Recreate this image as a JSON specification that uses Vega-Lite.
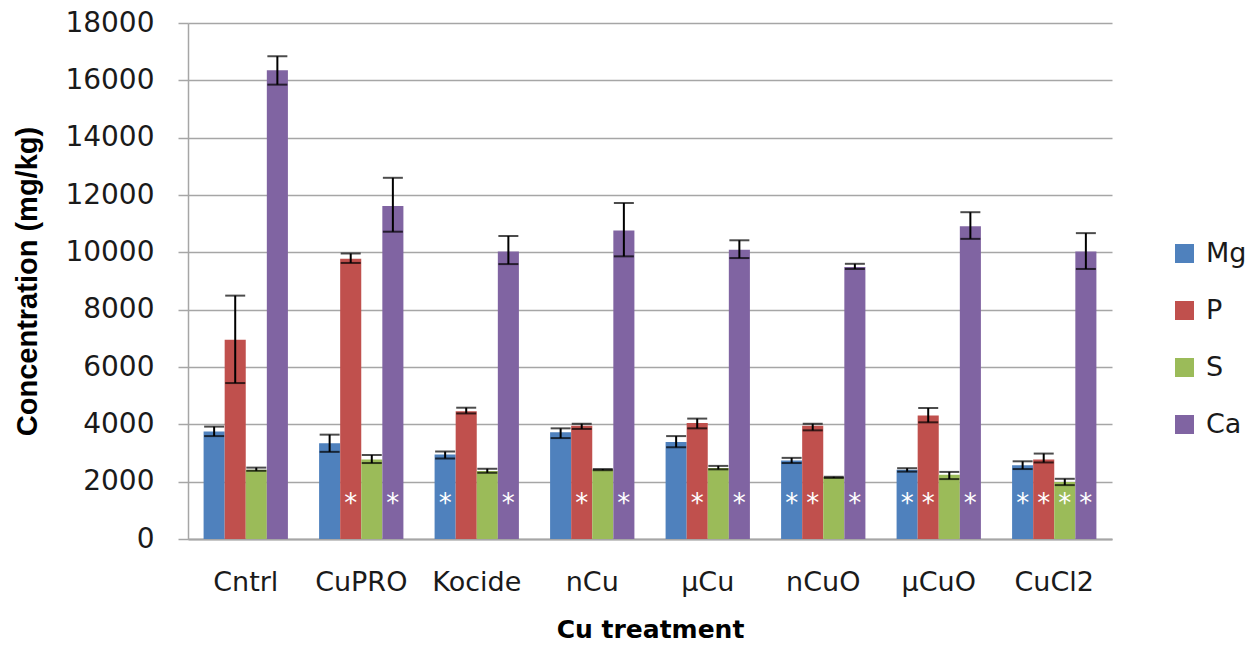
{
  "$schema": "https://vega.github.io/schema/vega-lite/v6.json",
  "width": 924,
  "height": 516,
  "autosize": "none",
  "padding": {"left": 188, "top": 23, "right": 141, "bottom": 106},
  "background": "white",
  "config": {
    "view": {"stroke": null},
    "font": "DejaVu Sans",
    "axis": {"labelFont": "DejaVu Sans", "titleFont": "DejaVu Sans", "labelColor": "#1a1a1a", "titleColor": "#000000"}
  },
  "data": {
    "values": [
      {"treatment": "Cntrl", "element": "Mg", "value": 3750, "lo": 3590, "hi": 3920, "sig": ""},
      {"treatment": "Cntrl", "element": "P", "value": 6950, "lo": 5440, "hi": 8490, "sig": ""},
      {"treatment": "Cntrl", "element": "S", "value": 2420, "lo": 2380, "hi": 2490, "sig": ""},
      {"treatment": "Cntrl", "element": "Ca", "value": 16350, "lo": 15850, "hi": 16840, "sig": ""},
      {"treatment": "CuPRO", "element": "Mg", "value": 3340, "lo": 3040, "hi": 3640, "sig": ""},
      {"treatment": "CuPRO", "element": "P", "value": 9780, "lo": 9630, "hi": 9960, "sig": "*"},
      {"treatment": "CuPRO", "element": "S", "value": 2770, "lo": 2650, "hi": 2930, "sig": ""},
      {"treatment": "CuPRO", "element": "Ca", "value": 11620, "lo": 10720, "hi": 12600, "sig": "*"},
      {"treatment": "Kocide", "element": "Mg", "value": 2950, "lo": 2810, "hi": 3050, "sig": "*"},
      {"treatment": "Kocide", "element": "P", "value": 4460, "lo": 4380, "hi": 4580, "sig": ""},
      {"treatment": "Kocide", "element": "S", "value": 2370, "lo": 2310, "hi": 2450, "sig": ""},
      {"treatment": "Kocide", "element": "Ca", "value": 10030, "lo": 9590, "hi": 10570, "sig": "*"},
      {"treatment": "nCu", "element": "Mg", "value": 3720, "lo": 3520, "hi": 3860, "sig": ""},
      {"treatment": "nCu", "element": "P", "value": 3950, "lo": 3840, "hi": 4020, "sig": "*"},
      {"treatment": "nCu", "element": "S", "value": 2420, "lo": 2400, "hi": 2440, "sig": ""},
      {"treatment": "nCu", "element": "Ca", "value": 10760, "lo": 9860, "hi": 11720, "sig": "*"},
      {"treatment": "µCu", "element": "Mg", "value": 3380, "lo": 3200, "hi": 3590, "sig": ""},
      {"treatment": "µCu", "element": "P", "value": 4050, "lo": 3860, "hi": 4200, "sig": "*"},
      {"treatment": "µCu", "element": "S", "value": 2480, "lo": 2430, "hi": 2550, "sig": ""},
      {"treatment": "µCu", "element": "Ca", "value": 10090, "lo": 9800, "hi": 10420, "sig": "*"},
      {"treatment": "nCuO", "element": "Mg", "value": 2740, "lo": 2650, "hi": 2830, "sig": "*"},
      {"treatment": "nCuO", "element": "P", "value": 3950, "lo": 3790, "hi": 4020, "sig": "*"},
      {"treatment": "nCuO", "element": "S", "value": 2150, "lo": 2130, "hi": 2170, "sig": ""},
      {"treatment": "nCuO", "element": "Ca", "value": 9490, "lo": 9420, "hi": 9600, "sig": "*"},
      {"treatment": "µCuO", "element": "Mg", "value": 2420, "lo": 2350, "hi": 2470, "sig": "*"},
      {"treatment": "µCuO", "element": "P", "value": 4310, "lo": 4070, "hi": 4570, "sig": "*"},
      {"treatment": "µCuO", "element": "S", "value": 2240, "lo": 2090, "hi": 2340, "sig": ""},
      {"treatment": "µCuO", "element": "Ca", "value": 10910, "lo": 10470, "hi": 11400, "sig": "*"},
      {"treatment": "CuCl2", "element": "Mg", "value": 2570, "lo": 2440, "hi": 2710, "sig": "*"},
      {"treatment": "CuCl2", "element": "P", "value": 2770, "lo": 2670, "hi": 2980, "sig": "*"},
      {"treatment": "CuCl2", "element": "S", "value": 1990, "lo": 1880, "hi": 2100, "sig": "*"},
      {"treatment": "CuCl2", "element": "Ca", "value": 10030, "lo": 9420, "hi": 10670, "sig": "*"}
    ]
  },
  "encoding": {
    "x": {
      "field": "treatment",
      "type": "nominal",
      "sort": ["Cntrl", "CuPRO", "Kocide", "nCu", "µCu", "nCuO", "µCuO", "CuCl2"],
      "scale": {"paddingInner": 0.27, "paddingOuter": 0.135},
      "axis": {
        "title": "Cu treatment",
        "titleFontSize": 25,
        "titleFontWeight": "bold",
        "titleY": 90,
        "titleBaseline": "middle",
        "labelAngle": 0,
        "labelFontSize": 27,
        "labelPadding": 30,
        "ticks": false,
        "domainColor": "#a6a6a6",
        "domainWidth": 2,
        "grid": false
      }
    },
    "xOffset": {
      "field": "element",
      "type": "nominal",
      "sort": ["Mg", "P", "S", "Ca"],
      "scale": {"paddingInner": 0, "paddingOuter": 0}
    }
  },
  "layer": [
    {
      "mark": {"type": "bar"},
      "encoding": {
        "y": {
          "field": "value",
          "type": "quantitative",
          "scale": {"domain": [0, 18000], "nice": false},
          "axis": {
            "title": "Concentration (mg/kg)",
            "titleFont": "Liberation Sans",
            "titleFontSize": 29,
            "titleFontWeight": "bold",
            "titleX": -161,
            "titleBaseline": "middle",
            "values": [0, 2000, 4000, 6000, 8000, 10000, 12000, 14000, 16000, 18000],
            "format": "d",
            "labelFontSize": 28,
            "labelPadding": 24,
            "tickSize": 10,
            "tickColor": "#a6a6a6",
            "tickWidth": 1.5,
            "domainColor": "#a6a6a6",
            "domainWidth": 1.5,
            "gridColor": "#a6a6a6",
            "gridWidth": 1.5
          }
        },
        "color": {
          "field": "element",
          "type": "nominal",
          "sort": ["Mg", "P", "S", "Ca"],
          "scale": {"domain": ["Mg", "P", "S", "Ca"], "range": ["#4f81bd", "#c0504d", "#9bbb59", "#8064a2"]},
          "legend": {
            "title": null,
            "orient": "none",
            "legendX": 983,
            "legendY": 217,
            "symbolType": "square",
            "symbolSize": 360,
            "symbolStrokeWidth": 0,
            "labelFont": "DejaVu Sans",
            "labelFontSize": 27,
            "labelColor": "#1a1a1a",
            "labelOffset": 8,
            "rowPadding": 29,
            "padding": 0
          }
        }
      }
    },
    {
      "mark": {"type": "rule", "color": "#000000", "strokeWidth": 2},
      "encoding": {
        "y": {"field": "lo", "type": "quantitative"},
        "y2": {"field": "hi"}
      }
    },
    {
      "mark": {"type": "tick", "color": "#000000", "thickness": 2, "size": 20},
      "encoding": {"y": {"field": "lo", "type": "quantitative"}}
    },
    {
      "mark": {"type": "tick", "color": "#000000", "thickness": 2, "size": 20},
      "encoding": {"y": {"field": "hi", "type": "quantitative"}}
    },
    {
      "mark": {"type": "text", "color": "#ffffff", "fontSize": 26, "fontWeight": "normal", "baseline": "alphabetic", "align": "center"},
      "encoding": {
        "y": {"datum": 950, "type": "quantitative"},
        "text": {"field": "sig"}
      }
    }
  ]
}
